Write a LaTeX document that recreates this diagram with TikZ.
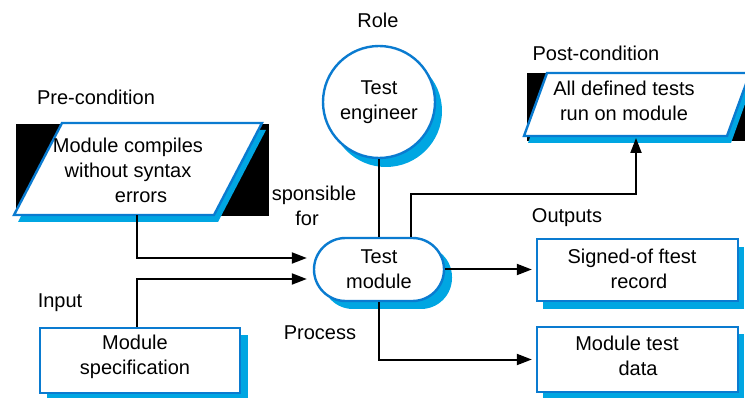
\documentclass[tikz,border=0pt]{standalone}
\usepackage{fontspec}
\setmainfont{Liberation Sans}
\usetikzlibrary{arrows.meta,shapes.misc}
\definecolor{bord}{HTML}{0A7BD0}
\definecolor{shad}{HTML}{00A6E2}
\begin{document}
\begin{tikzpicture}[x=1pt,y=-1pt,
  txt/.style={font=\fontsize{20}{25}\selectfont, align=center, inner sep=0pt},
  boxline/.style={draw=bord, line width=2.4pt, fill=white},
  conn/.style={line width=2pt, draw=black},
  arr/.style={conn, -{Triangle[length=15pt,width=11pt]}, shorten >=5pt},
]
\useasboundingbox (0,0) rectangle (745,398);

% ---------- pre-condition parallelogram ----------
\fill[black] (16,124) rectangle (269,216);
\fill[shad] (66,130) -- (266,130) -- (218,222) -- (18,222) -- cycle;
\draw[boxline] (62,123) -- (262,123) -- (214,215) -- (14,215) -- cycle;
\node[txt] (pre) at (128,170) {Module compiles\\without syntax\\\hspace*{26pt}errors};
\coordinate (preout) at (137,215);

% ---------- post-condition parallelogram ----------
\fill[black] (527,73) rectangle (760,141);
\fill[shad] (551,79) -- (754,79) -- (731,143) -- (528,143) -- cycle;
\draw[boxline] (547,73) -- (750,73) -- (727,136) -- (524,136) -- cycle;
\node[txt] (post) at (624,101) {All defined tests\\run on module};
\coordinate (postin) at (636,138);
\coordinate (bend) at (636,194);

% ---------- role circle ----------
\fill[shad] (386,111) circle (56);
\node[circle, boxline, minimum size=112pt, txt] (eng) at (379,102) {Test\\engineer};

% ---------- test module ----------
\fill[shad, rounded corners=31pt] (322,246) rectangle (452,309);
\node[rounded rectangle, boxline, minimum width=130pt, minimum height=63pt, txt] (tm) at (379,269.5) {Test\\module};

% ---------- output boxes ----------
\fill[shad] (543,247) rectangle (744,309);
\node[boxline, minimum width=201pt, minimum height=62pt, inner sep=0pt] (sig) at (637.5,270) {};
\node[txt] (sigt) at (632,269) {Signed-of ftest\\\hspace*{14pt}record};

\fill[shad] (543,334) rectangle (744,399);
\node[boxline, minimum width=201pt, minimum height=65pt, inner sep=0pt] (data) at (637.5,359.5) {};
\node[txt] (datat) at (627,356) {Module test\\\hspace*{22pt}data};

% ---------- input box ----------
\fill[shad] (47,335) rectangle (248,400);
\node[boxline, minimum width=200pt, minimum height=65pt, inner sep=0pt] (spec) at (140,360.5) {};
\node[txt] (spect) at (135,356.5) {Module\\specification};

% ---------- labels ----------
\node[txt] (lpre) at (96,97) {Pre-condition};
\node[txt] (lrole) at (378,20) {Role};
\node[txt] (lpost) at (596,53) {Post-condition};
\node[txt] (lresp) at (307,205.5) {\hspace*{14pt}sponsible\\for};
\node[txt] (lout) at (567,218) {Outputs};
\node[txt] (linput) at (60,303) {Input};
\node[txt] (lproc) at (320,333) {Process};

% ---------- connectors ----------
\draw[arr, shorten >=6pt] (preout) |- ([yshift=11.5pt]tm.west);
\draw[arr, shorten >=6pt] ([xshift=-3pt]spec.north) |- ([yshift=-9.5pt]tm.west);
\draw[conn] (eng.south) -- (tm.north);
\draw[arr, shorten >=0pt] ([xshift=32pt]tm.north) |- (bend) -- (postin);
\draw[arr, shorten >=4pt] (tm.east) -- (tm.east -| sig.west);
\draw[arr, shorten >=4pt] (tm.south) |- (data.west);
\end{tikzpicture}
\end{document}
